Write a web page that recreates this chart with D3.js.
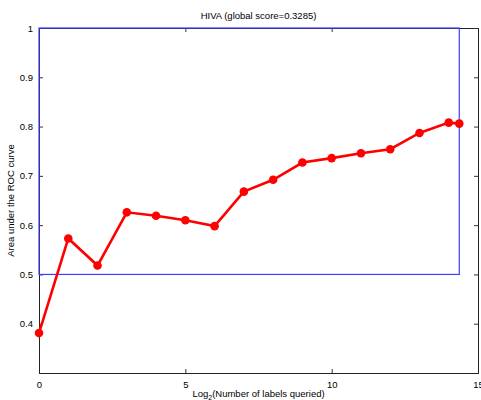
<!DOCTYPE html>
<html>
<head>
<meta charset="utf-8">
<script src="https://cdn.jsdelivr.net/npm/d3@7"></script>
<style>
  body { margin: 0; background: #fff; }
  text { font-family: "Liberation Sans", Arial, sans-serif; fill: #000; }
</style>
</head>
<body>
<div id="viz"></div>
<script>
// log2 of labels queried and the AUC at each step
var xs = [0, 1, 2, 3, 4, 5, 6, 7, 8, 9, 10, 11, 12, 13, 14, 14.36];
var auc = [0.381, 0.573, 0.518, 0.626, 0.619, 0.610, 0.598, 0.668, 0.692, 0.727, 0.736, 0.746, 0.754, 0.787, 0.808, 0.806];
var xTicks = [0, 5, 10, 15];
var yTicks = [0.4, 0.5, 0.6, 0.7, 0.8, 0.9, 1];
// the blue box: from first to last query, between 0.5 and 1
var boxX = [0, 14.36];
var boxY = [0.5, 1];

var margin = {top: 28, right: 3, bottom: 27, left: 39},
  width = 481 - margin.left - margin.right,
  height = 400 - margin.top - margin.bottom;

var svg = d3.select("#viz").append("svg")
  .attr("width", 481)
  .attr("height", 400)
.append("g")
  .attr("transform", "translate(" + margin.left + "," + margin.top + ")");

var x = d3.scaleLinear().domain([0, 15]).range([0, width]);
var y = d3.scaleLinear().domain([0.3, 1]).range([height, 0]);

// axes, matlab style: ticks inward, mirrored on the other side
svg.append("g")
  .attr("transform", "translate(0," + height + ")")
  .call(d3.axisBottom(x).tickValues(xTicks).tickSize(-4).tickPadding(8).tickFormat(d3.format("d")));
svg.append("g")
  .call(d3.axisTop(x).tickValues(xTicks).tickSize(-4).tickFormat(""));
svg.append("g")
  .call(d3.axisLeft(y).tickValues(yTicks).tickSize(-4).tickPadding(6).tickFormat(function(d){ return d === 1 ? "1" : d3.format(".1f")(d); }));
svg.append("g")
  .attr("transform", "translate(" + width + ",0)")
  .call(d3.axisRight(y).tickValues(yTicks).tickSize(-4).tickFormat(""));

svg.selectAll(".domain").attr("stroke", "#222");
svg.selectAll(".tick line").attr("stroke", "#333");
svg.selectAll(".tick text").style("font-size", "9.5px");

svg.append("rect")
  .attr("x", x(boxX[0]))
  .attr("y", y(boxY[1]))
  .attr("width", x(boxX[1]) - x(boxX[0]))
  .attr("height", y(boxY[0]) - y(boxY[1]))
  .attr("fill", "none")
  .attr("stroke", "#3f3fff")
  .attr("stroke-width", 1.2);

var line = d3.line()
  .x(function(d, i){ return x(xs[i]) })
  .y(function(d){ return y(d) });

svg.append("path")
  .datum(auc)
  .attr("d", line)
  .attr("fill", "none")
  .attr("stroke", "#ff0000")
  .attr("stroke-width", 2.6);

svg.selectAll("circle")
  .data(auc)
  .enter()
.append("circle")
  .attr("cx", function(d, i){ return x(xs[i]) })
  .attr("cy", function(d){ return y(d) })
  .attr("r", 4.3)
  .attr("fill", "#ff0000");

svg.append("text")
  .attr("x", width / 2)
  .attr("y", -9)
  .attr("text-anchor", "middle")
  .style("font-size", "9.5px")
  .text("HIVA (global score=0.3285)");

var xl = svg.append("text")
  .attr("x", width / 2)
  .attr("y", height + 24)
  .attr("text-anchor", "middle")
  .style("font-size", "9.5px");
xl.append("tspan").text("Log");
xl.append("tspan").attr("dy", 2.5).style("font-size", "7px").text("2");
xl.append("tspan").attr("dy", -2.5).text("(Number of labels queried)");

svg.append("text")
  .attr("transform", "translate(-25," + y(0.65) + ") rotate(-90)")
  .attr("text-anchor", "middle")
  .style("font-size", "9.5px")
  .text("Area under the ROC curve");
</script>
</body>
</html>
